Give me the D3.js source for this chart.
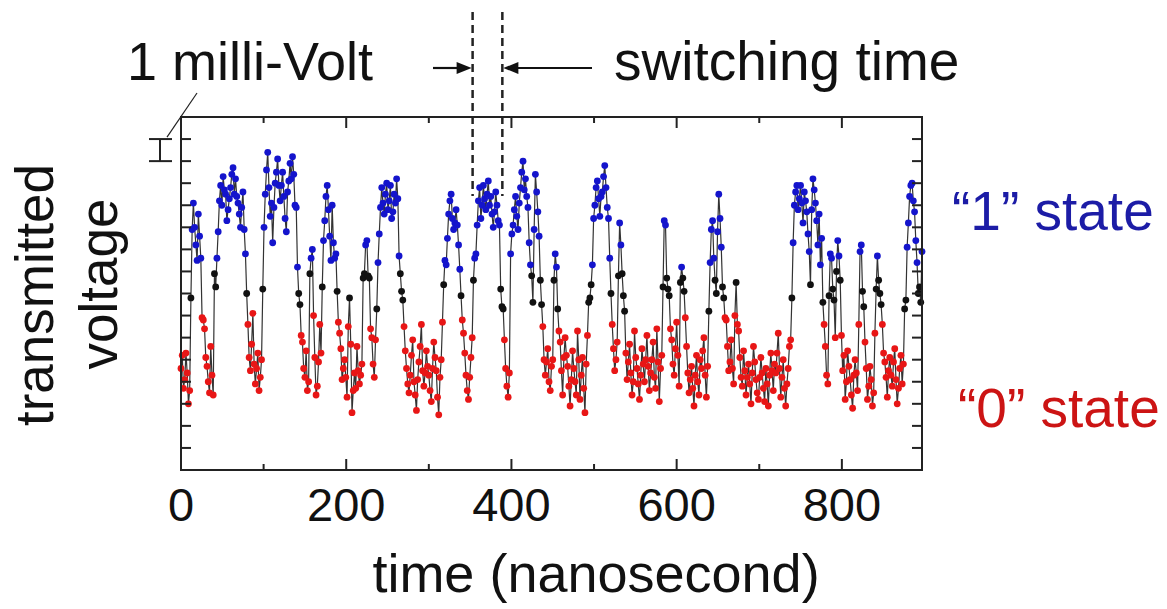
<!DOCTYPE html>
<html>
<head>
<meta charset="utf-8">
<script src="https://cdn.jsdelivr.net/npm/d3@7"></script>
<style>
    body { margin: 0; background: #fff; }
    text { font-family: "Liberation Sans", Arial, sans-serif; }
</style>
</head>
<body>
<svg id="chart" width="1167" height="609"></svg>
<script>

// sampled trace, one reading every 1.5 ns (millivolts, arbitrary offset)
var timeStep = 1.5;
var voltage = [
    4.6, 5.2, 3.7, 4.1, 5.3, 4.4, 3.0, 3.6, 7.8, 10.9, 12.1, 11.0, 10.2, 9.5, 11.6, 10.6, 9.6, 6.9, 6.8, 6.4,
    5.1, 4.7, 4.0, 3.5, 5.6, 4.3, 3.4, 8.9, 8.3, 9.6, 10.8, 12.2, 12.9, 12.0, 13.3, 12.7, 12.5, 11.3, 11.8, 12.3,
    12.8, 13.4, 13.7, 12.5, 13.2, 12.4, 12.1, 11.6, 11.0, 11.9, 12.6, 10.9, 9.8, 8.0, 6.6, 5.1, 4.5, 5.7, 7.1, 4.8,
    3.9, 4.6, 5.3, 3.6, 4.2, 5.0, 8.2, 11.0, 12.5, 13.6, 14.4, 12.8, 11.5, 12.1, 10.3, 11.9, 13.0, 13.5, 14.1, 12.9,
    12.2, 12.9, 13.5, 12.4, 11.4, 10.8, 12.6, 13.1, 13.9, 13.2, 14.2, 13.4, 12.0, 11.9, 9.2, 8.0, 7.5, 6.1, 5.8, 4.6,
    4.2, 5.4, 3.6, 4.0, 8.9, 9.6, 10.0, 7.0, 5.1, 3.4, 3.8, 4.9, 6.6, 5.3, 8.3, 10.4, 11.3, 12.4, 12.9, 11.8,
    10.6, 9.5, 12.0, 10.3, 9.6, 9.8, 8.1, 6.7, 6.2, 5.5, 4.1, 4.6, 5.0, 4.2, 3.3, 6.5, 7.8, 5.7, 2.6, 3.6,
    4.4, 3.7, 5.6, 4.5, 3.9, 4.3, 4.8, 8.7, 8.9, 10.2, 10.4, 8.8, 8.7, 6.4, 6.0, 4.8, 4.2, 5.9, 7.3, 9.4,
    10.7, 11.9, 12.8, 12.1, 11.6, 12.5, 13.0, 11.8, 12.2, 12.9, 11.4, 11.7, 12.5, 12.1, 13.2, 12.3, 9.7, 8.9, 8.1, 7.7,
    6.5, 5.4, 4.6, 3.9, 3.5, 4.3, 5.2, 5.9, 4.0, 3.4, 2.7, 4.1, 4.9, 5.6, 6.6, 4.5, 3.8, 4.4, 5.4, 4.7,
    4.3, 3.6, 3.1, 4.6, 5.8, 5.1, 4.5, 3.3, 2.5, 4.2, 5.0, 6.7, 8.4, 9.5, 9.3, 10.5, 11.6, 12.2, 12.5, 11.4,
    10.9, 11.2, 11.8, 11.1, 10.2, 9.1, 7.9, 6.8, 6.2, 5.3, 4.3, 3.6, 3.2, 4.2, 5.1, 6.0, 8.6, 9.6, 9.8, 11.1,
    12.2, 12.8, 11.4, 12.0, 12.9, 12.3, 11.8, 12.5, 13.1, 12.0, 12.4, 11.6, 11.0, 11.7, 12.6, 12.0, 11.3, 11.1, 8.2, 7.4,
    7.3, 5.9, 4.6, 3.8, 3.3, 4.4, 9.8, 10.7, 11.1, 11.8, 12.4, 11.5, 10.9, 12.1, 12.8, 13.5, 14.0, 12.7, 13.2, 12.4,
    11.9, 10.3, 9.3, 8.8, 7.6, 10.9, 13.4, 12.6, 11.7, 10.6, 8.6, 7.5, 6.5, 5.0, 4.3, 4.9, 5.5, 4.0, 3.6, 4.7,
    5.0, 8.6, 9.8, 9.2, 7.3, 6.3, 5.8, 4.5, 3.4, 5.1, 6.0, 5.2, 4.7, 3.8, 2.9, 4.1, 5.4, 4.6, 4.0, 3.4,
    6.3, 5.0, 3.2, 4.3, 5.1, 3.7, 2.6, 4.8, 6.1, 7.6, 7.8, 8.4, 9.3, 11.4, 12.0, 12.8, 13.1, 12.3, 11.5, 12.4,
    12.6, 13.3, 13.8, 12.8, 11.9, 11.4, 9.6, 8.0, 6.6, 5.5, 4.5, 5.0, 5.8, 8.8, 11.2, 10.2, 8.9, 7.9, 7.2, 5.3,
    4.1, 4.9, 5.7, 4.4, 3.4, 4.0, 6.3, 5.1, 4.6, 3.9, 3.2, 4.3, 5.5, 4.8, 4.0, 5.0, 6.1, 4.7, 3.6, 4.4,
    5.0, 5.8, 4.2, 3.7, 6.4, 4.9, 3.1, 4.6, 5.2, 8.3, 11.3, 11.1, 8.7, 8.2, 7.9, 6.4, 5.9, 4.8, 4.3, 5.5,
    6.7, 5.2, 3.8, 8.5, 9.2, 8.7, 8.1, 6.9, 5.6, 4.4, 3.5, 4.1, 4.7, 3.7, 2.9, 4.3, 5.2, 4.0, 3.4, 5.0,
    4.6, 5.4, 6.0, 4.3, 3.3, 4.7, 7.2, 9.4, 10.9, 11.3, 9.6, 8.6, 8.0, 10.8, 12.5, 11.4, 10.1, 8.3, 7.8, 6.9,
    6.8, 5.6, 4.5, 4.9, 5.9, 4.6, 3.9, 7.0, 8.5, 6.6, 6.3, 5.1, 4.2, 3.8, 5.4, 4.5, 3.4, 4.2, 4.8, 3.9,
    3.0, 4.4, 5.6, 4.9, 4.1, 3.5, 3.2, 4.2, 5.1, 4.4, 3.7, 3.1, 4.6, 3.9, 2.9, 4.3, 5.3, 4.5, 3.6, 4.8,
    4.4, 5.3, 6.2, 4.6, 3.3, 4.2, 5.0, 3.7, 2.9, 3.9, 4.6, 5.6, 5.9, 7.8, 10.3, 12.0, 12.6, 12.9, 11.8, 12.3,
    12.9, 12.1, 11.2, 12.6, 12.2, 11.7, 10.7, 9.9, 8.4, 11.8, 13.2, 12.7, 12.1, 11.3, 10.2, 11.6, 9.3, 10.5, 7.6, 6.6,
    5.6, 4.3, 3.9, 7.9, 9.8, 9.6, 8.2, 7.7, 6.0, 9.0, 10.4, 9.7, 8.6, 6.1, 4.5, 5.2, 3.2, 4.0, 5.4, 4.7,
    4.1, 3.4, 2.8, 4.3, 5.0, 4.4, 3.6, 6.6, 9.9, 10.2, 8.1, 7.4, 5.8, 4.6, 3.2, 3.8, 4.7, 4.1, 2.9, 3.5,
    6.2, 8.2, 9.7, 8.6, 8.0, 7.5, 6.6, 5.3, 4.9, 4.2, 3.3, 4.5, 5.1, 4.3, 3.8, 4.9, 5.5, 4.1, 3.0, 3.7,
    4.6, 5.2, 3.9, 4.8, 7.3, 7.7, 10.1, 11.2, 12.4, 12.9, 13.0, 12.2, 11.7, 10.4, 9.4, 8.0, 8.3, 7.6, 9.9
];

var xMajorTicks = [0, 200, 400, 600, 800];
var xMinorTicks = [100, 300, 500, 700];
var yTicks = [1, 2, 3, 4, 5, 6, 7, 8, 9, 10, 11, 12, 13, 14, 15];
var switchMarks = [353, 389];      // ns, the dashed lines
var scaleBar = [14, 15];           // mV, the "1 milli-Volt" bracket
var stateCut = [7.2, 9.0];         // below = "0", above = "1", between = undecided

var svg = d3.select("#chart");

var x = d3.scaleLinear().domain([0, 897]).range([181, 922]);
var y = d3.scaleLinear().domain([0, 16]).range([470, 117]);

var pts = voltage.map(function(v, i){
    return {t: i * timeStep, v: v};
});

function stateColor(v){
    if(v > stateCut[1]){ return "#1414cc"; }
    if(v < stateCut[0]){ return "#e81616"; }
    return "#111";
}

// trace
svg.append("path")
    .datum(pts)
    .attr("fill", "none")
    .attr("stroke", "#333")
    .attr("stroke-width", 1.2)
    .attr("d", d3.line()
        .x(function(d){ return x(d.t); })
        .y(function(d){ return y(d.v); }));

svg.append("g")
    .selectAll("circle")
    .data(pts)
    .enter()
    .append("circle")
    .attr("cx", function(d){ return x(d.t); })
    .attr("cy", function(d){ return y(d.v); })
    .attr("r", 3.4)
    .attr("fill", function(d){ return stateColor(d.v); });

// frame + ticks (all pointing inward)
svg.append("rect")
    .attr("x", x(0)).attr("y", y(16))
    .attr("width", x(897) - x(0))
    .attr("height", y(0) - y(16))
    .attr("fill", "none")
    .attr("stroke", "#222")
    .attr("stroke-width", 2);

var tickG = svg.append("g").attr("stroke", "#222").attr("stroke-width", 2);

function xTicks(vals, len){
    vals.forEach(function(d){
        tickG.append("line").attr("x1", x(d)).attr("x2", x(d))
            .attr("y1", y(0)).attr("y2", y(0) - len);
        tickG.append("line").attr("x1", x(d)).attr("x2", x(d))
            .attr("y1", y(16)).attr("y2", y(16) + len);
    });
}
xTicks(xMajorTicks, 11);
xTicks(xMinorTicks, 6);

yTicks.forEach(function(d){
    tickG.append("line").attr("x1", x(0)).attr("x2", x(0) + 10)
        .attr("y1", y(d)).attr("y2", y(d));
    tickG.append("line").attr("x1", x(897)).attr("x2", x(897) - 10)
        .attr("y1", y(d)).attr("y2", y(d));
});

svg.append("g")
    .selectAll("text")
    .data(xMajorTicks)
    .enter()
    .append("text")
    .attr("x", function(d){ return x(d); })
    .attr("y", 521)
    .attr("text-anchor", "middle")
    .attr("font-size", 47)
    .attr("fill", "#111")
    .text(function(d){ return d; });

svg.append("text")
    .attr("x", 596).attr("y", 592)
    .attr("text-anchor", "middle")
    .attr("font-size", 54)
    .attr("fill", "#111")
    .text("time (nanosecond)");

// y label, two lines
svg.append("text")
    .attr("transform", "translate(53,295) rotate(-90)")
    .attr("text-anchor", "middle")
    .attr("font-size", 53)
    .attr("fill", "#111")
    .text("transmitted");
svg.append("text")
    .attr("transform", "translate(117,284) rotate(-90)")
    .attr("text-anchor", "middle")
    .attr("font-size", 53)
    .attr("fill", "#111")
    .text("voltage");

// state labels
svg.append("text")
    .attr("x", 952).attr("y", 230)
    .attr("font-size", 55)
    .attr("fill", "#1c1ca6")
    .text("\u201c1\u201d state");
svg.append("text")
    .attr("x", 958).attr("y", 427)
    .attr("font-size", 55)
    .attr("fill", "#cc1414")
    .text("\u201c0\u201d state");

// 1 mV bracket
var bx = 160;
var bar = svg.append("g").attr("stroke", "#222").attr("stroke-width", 2);
bar.append("line").attr("x1", bx).attr("x2", bx)
    .attr("y1", y(scaleBar[1])).attr("y2", y(scaleBar[0]));
scaleBar.forEach(function(d){
    bar.append("line").attr("x1", bx - 11).attr("x2", bx + 12)
        .attr("y1", y(d)).attr("y2", y(d));
});
bar.append("line")
    .attr("stroke-width", 1.2)
    .attr("x1", 197).attr("y1", 93)
    .attr("x2", 167).attr("y2", y(scaleBar[1]) - 2);

svg.append("text")
    .attr("x", 127).attr("y", 80)
    .attr("font-size", 54)
    .attr("fill", "#111")
    .text("1 milli-Volt");

// switching time markers
svg.append("g")
    .selectAll("line")
    .data(switchMarks)
    .enter()
    .append("line")
    .attr("x1", function(d){ return x(d); })
    .attr("x2", function(d){ return x(d); })
    .attr("y1", 12).attr("y2", 196)
    .attr("stroke", "#222")
    .attr("stroke-width", 2.5)
    .attr("stroke-dasharray", "8,5");

// arrowheads drawn as plain triangles so their size does not follow the stroke
function arrow(x1, x2, yy){
    var dir = x2 > x1 ? 1 : -1;
    svg.append("line")
        .attr("x1", x1).attr("y1", yy)
        .attr("x2", x2 - dir * 12).attr("y2", yy)
        .attr("stroke", "#111").attr("stroke-width", 2.2);
    svg.append("path")
        .attr("d", "M" + x2 + "," + yy +
            " L" + (x2 - dir * 15) + "," + (yy - 6) +
            " L" + (x2 - dir * 15) + "," + (yy + 6) + " Z")
        .attr("fill", "#111");
}
arrow(433, x(switchMarks[0]) - 1, 68);
arrow(592, x(switchMarks[1]) + 1, 68);

svg.append("text")
    .attr("x", 614).attr("y", 80)
    .attr("font-size", 55)
    .attr("fill", "#111")
    .text("switching time");

</script>
</body>
</html>
